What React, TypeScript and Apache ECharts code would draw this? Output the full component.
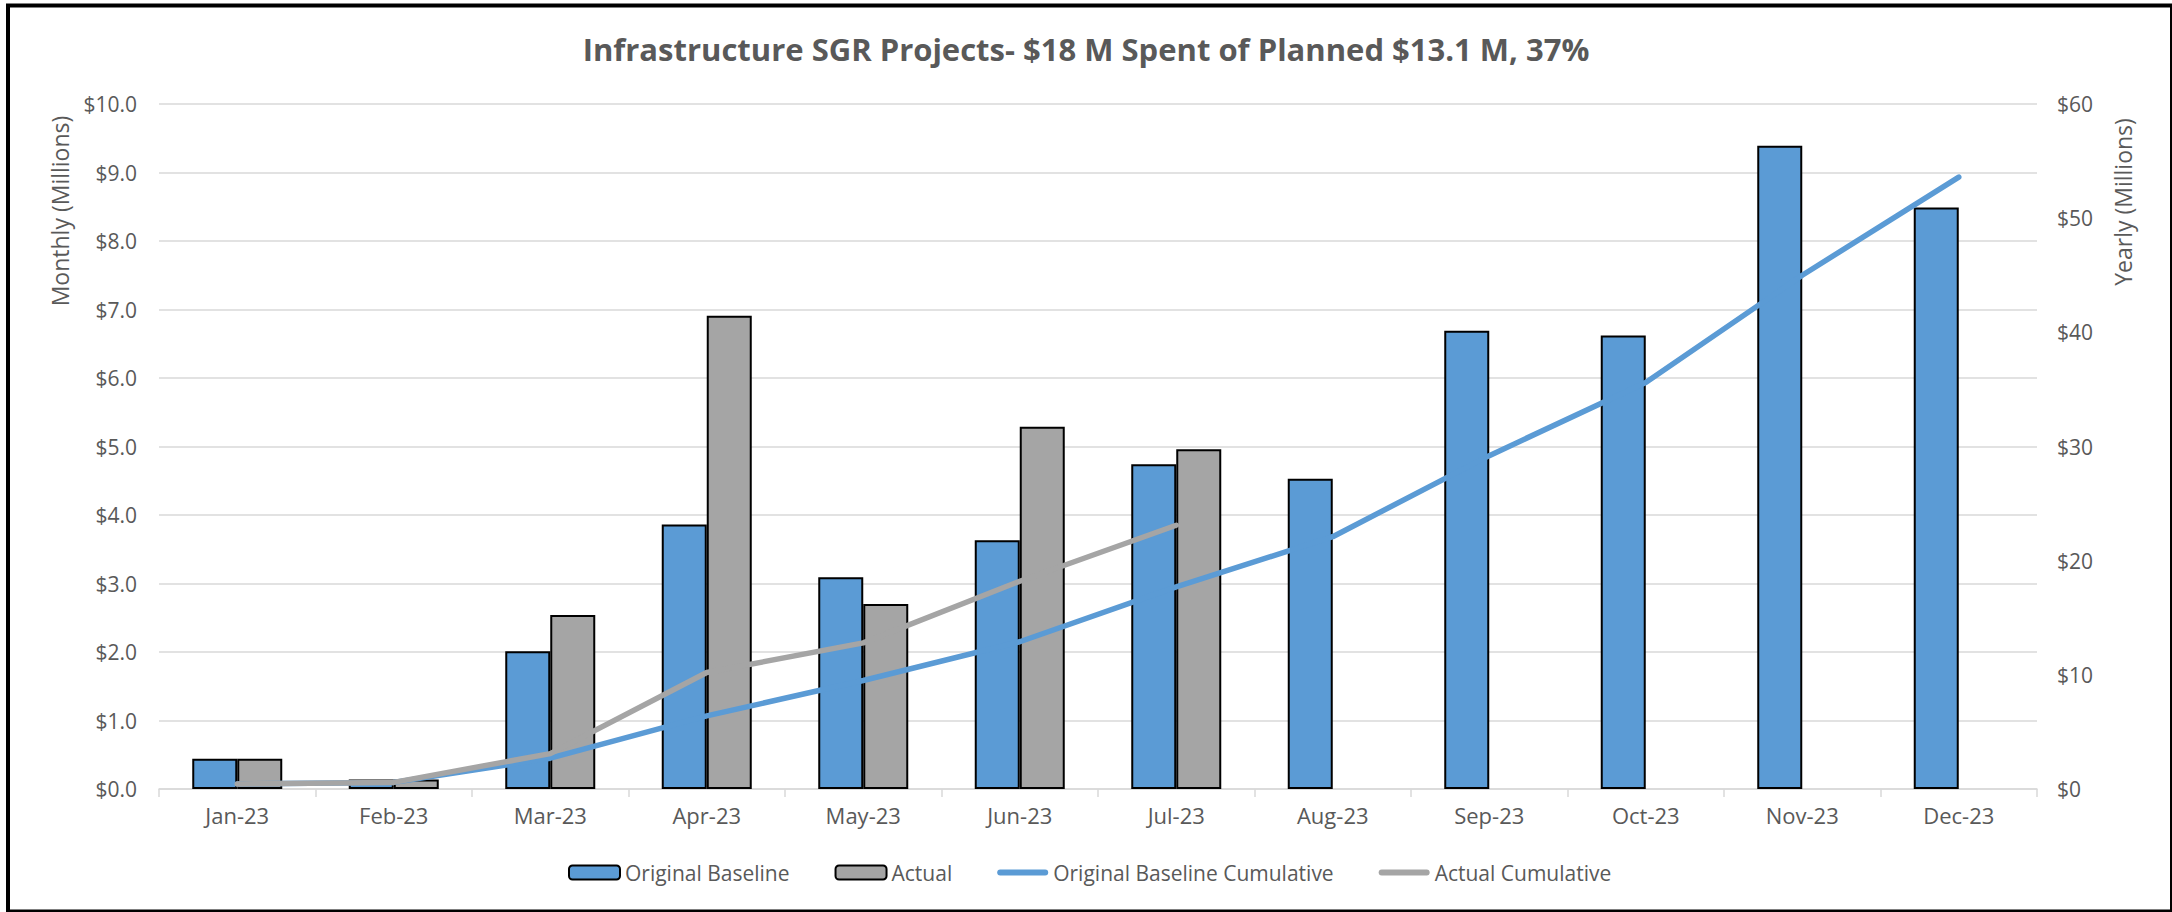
import React, { useEffect, useRef } from 'react';
import * as echarts from 'echarts';

const months = ['Jan-23', 'Feb-23', 'Mar-23', 'Apr-23', 'May-23', 'Jun-23', 'Jul-23', 'Aug-23', 'Sep-23', 'Oct-23', 'Nov-23', 'Dec-23'];
const baseline = [0.44, 0.14, 2.01, 3.86, 3.09, 3.63, 4.74, 4.53, 6.69, 6.62, 9.39, 8.49];
const actual = [0.44, 0.14, 2.54, 6.91, 2.7, 5.29, 4.96, null, null, null, null, null];
const baselineCum = [0.44, 0.58, 2.7, 6.4, 9.5, 12.9, 17.7, 22.1, 29.2, 35.6, 45.0, 53.6];
const actualCum = [0.44, 0.58, 3.1, 10.2, 12.8, 18.2, 23.1, null, null, null, null, null];

const titleText = 'Infrastructure SGR Projects- $18 M Spent of Planned $13.1 M, 37%';
const leftAxisName = 'Monthly (Millions)';
const rightAxisName = 'Yearly (Millions)';

const FONT = "'Open Sans', sans-serif";
const TXT = '#595959';
const BLUE = '#5B9BD5';
const GRAY = '#A5A5A5';
const LINE_ICON = 'path://M3,0 L48,0 A3,3 0 0 1 48,6 L3,6 A3,3 0 0 1 3,0 Z';

export default function App() {
  const ref = useRef<HTMLDivElement>(null);
  useEffect(() => {
    const chart = echarts.init(ref.current!, null, { renderer: 'svg' });
    chart.setOption({
      animation: false,
      backgroundColor: '#ffffff',
      textStyle: { fontFamily: FONT },
      title: {
        text: titleText,
        left: 'center',
        top: 28,
        padding: [5, 21, 5, 5],
        textStyle: { fontFamily: FONT, fontSize: 31, fontWeight: 'bold', color: TXT },
      },
      grid: { left: 159, right: 135, top: 104, bottom: 123, containLabel: false },
      legend: {
        left: 568,
        top: 862,
        padding: 0,
        itemGap: 45,
        itemWidth: 51,
        itemHeight: 14,
        textStyle: { fontFamily: FONT, fontSize: 21, color: TXT },
        data: [
          { name: 'Original Baseline' },
          { name: 'Actual' },
          { name: 'Original Baseline Cumulative', icon: LINE_ICON, itemStyle: { color: BLUE, borderWidth: 0 } },
          { name: 'Actual Cumulative', icon: LINE_ICON, itemStyle: { color: GRAY, borderWidth: 0 } },
        ],
      },
      xAxis: {
        type: 'category',
        data: months,
        axisLine: { lineStyle: { color: '#D9D9D9', width: 1.5 } },
        axisTick: { show: true, length: 8, lineStyle: { color: '#D9D9D9', width: 1.5 } },
        axisLabel: { fontFamily: FONT, fontSize: 22, color: TXT, margin: 15 },
      },
      yAxis: [
        {
          type: 'value',
          min: 0,
          max: 10,
          interval: 1,
          axisLine: { show: false },
          axisTick: { show: false },
          splitLine: { lineStyle: { color: '#D9D9D9', width: 1.5 } },
          axisLabel: {
            fontFamily: FONT,
            fontSize: 21,
            color: TXT,
            margin: 22,
            formatter: (v: number) => '$' + v.toFixed(1),
          },
        },
        {
          type: 'value',
          min: 0,
          max: 60,
          interval: 10,
          position: 'right',
          axisLine: { show: false },
          axisTick: { show: false },
          splitLine: { show: false },
          axisLabel: {
            fontFamily: FONT,
            fontSize: 21,
            color: TXT,
            margin: 20,
            formatter: (v: number) => '$' + v,
          },
        },
      ],
      series: [
        {
          name: 'Original Baseline',
          type: 'bar',
          data: baseline,
          barWidth: 45,
          barGap: '0%',
          itemStyle: { color: BLUE, borderColor: '#000000', borderWidth: 2 },
        },
        {
          name: 'Actual',
          type: 'bar',
          data: actual,
          barWidth: 45,
          barGap: '0%',
          itemStyle: { color: GRAY, borderColor: '#000000', borderWidth: 2 },
        },
        {
          name: 'Original Baseline Cumulative',
          type: 'line',
          yAxisIndex: 1,
          data: baselineCum,
          symbol: 'none',
          showSymbol: false,
          lineStyle: { color: BLUE, width: 5.5, cap: 'round' },
          itemStyle: { color: BLUE },
        },
        {
          name: 'Actual Cumulative',
          type: 'line',
          yAxisIndex: 1,
          data: actualCum,
          symbol: 'none',
          showSymbol: false,
          lineStyle: { color: GRAY, width: 5.5, cap: 'round' },
          itemStyle: { color: GRAY },
        },
      ],
      graphic: [
        {
          type: 'rect',
          shape: { x: 8, y: 5.5, width: 2164, height: 906 },
          style: { fill: 'none', stroke: '#000000', lineWidth: 4 },
          silent: true,
          z: 100,
        },
        {
          type: 'text',
          x: 60,
          y: 211,
          rotation: Math.PI / 2,
          style: { text: leftAxisName, fontFamily: FONT, fontSize: 23, fill: TXT, align: 'center', verticalAlign: 'middle' },
        },
        {
          type: 'text',
          x: 2123,
          y: 202,
          rotation: Math.PI / 2,
          style: { text: rightAxisName, fontFamily: FONT, fontSize: 23, fill: TXT, align: 'center', verticalAlign: 'middle' },
        },
      ],
    });
    return () => chart.dispose();
  }, []);
  return (
    <div
      ref={ref}
      style={{ position: 'absolute', left: 0, top: 0, width: 2172, height: 912, background: '#ffffff' }}
    />
  );
}
